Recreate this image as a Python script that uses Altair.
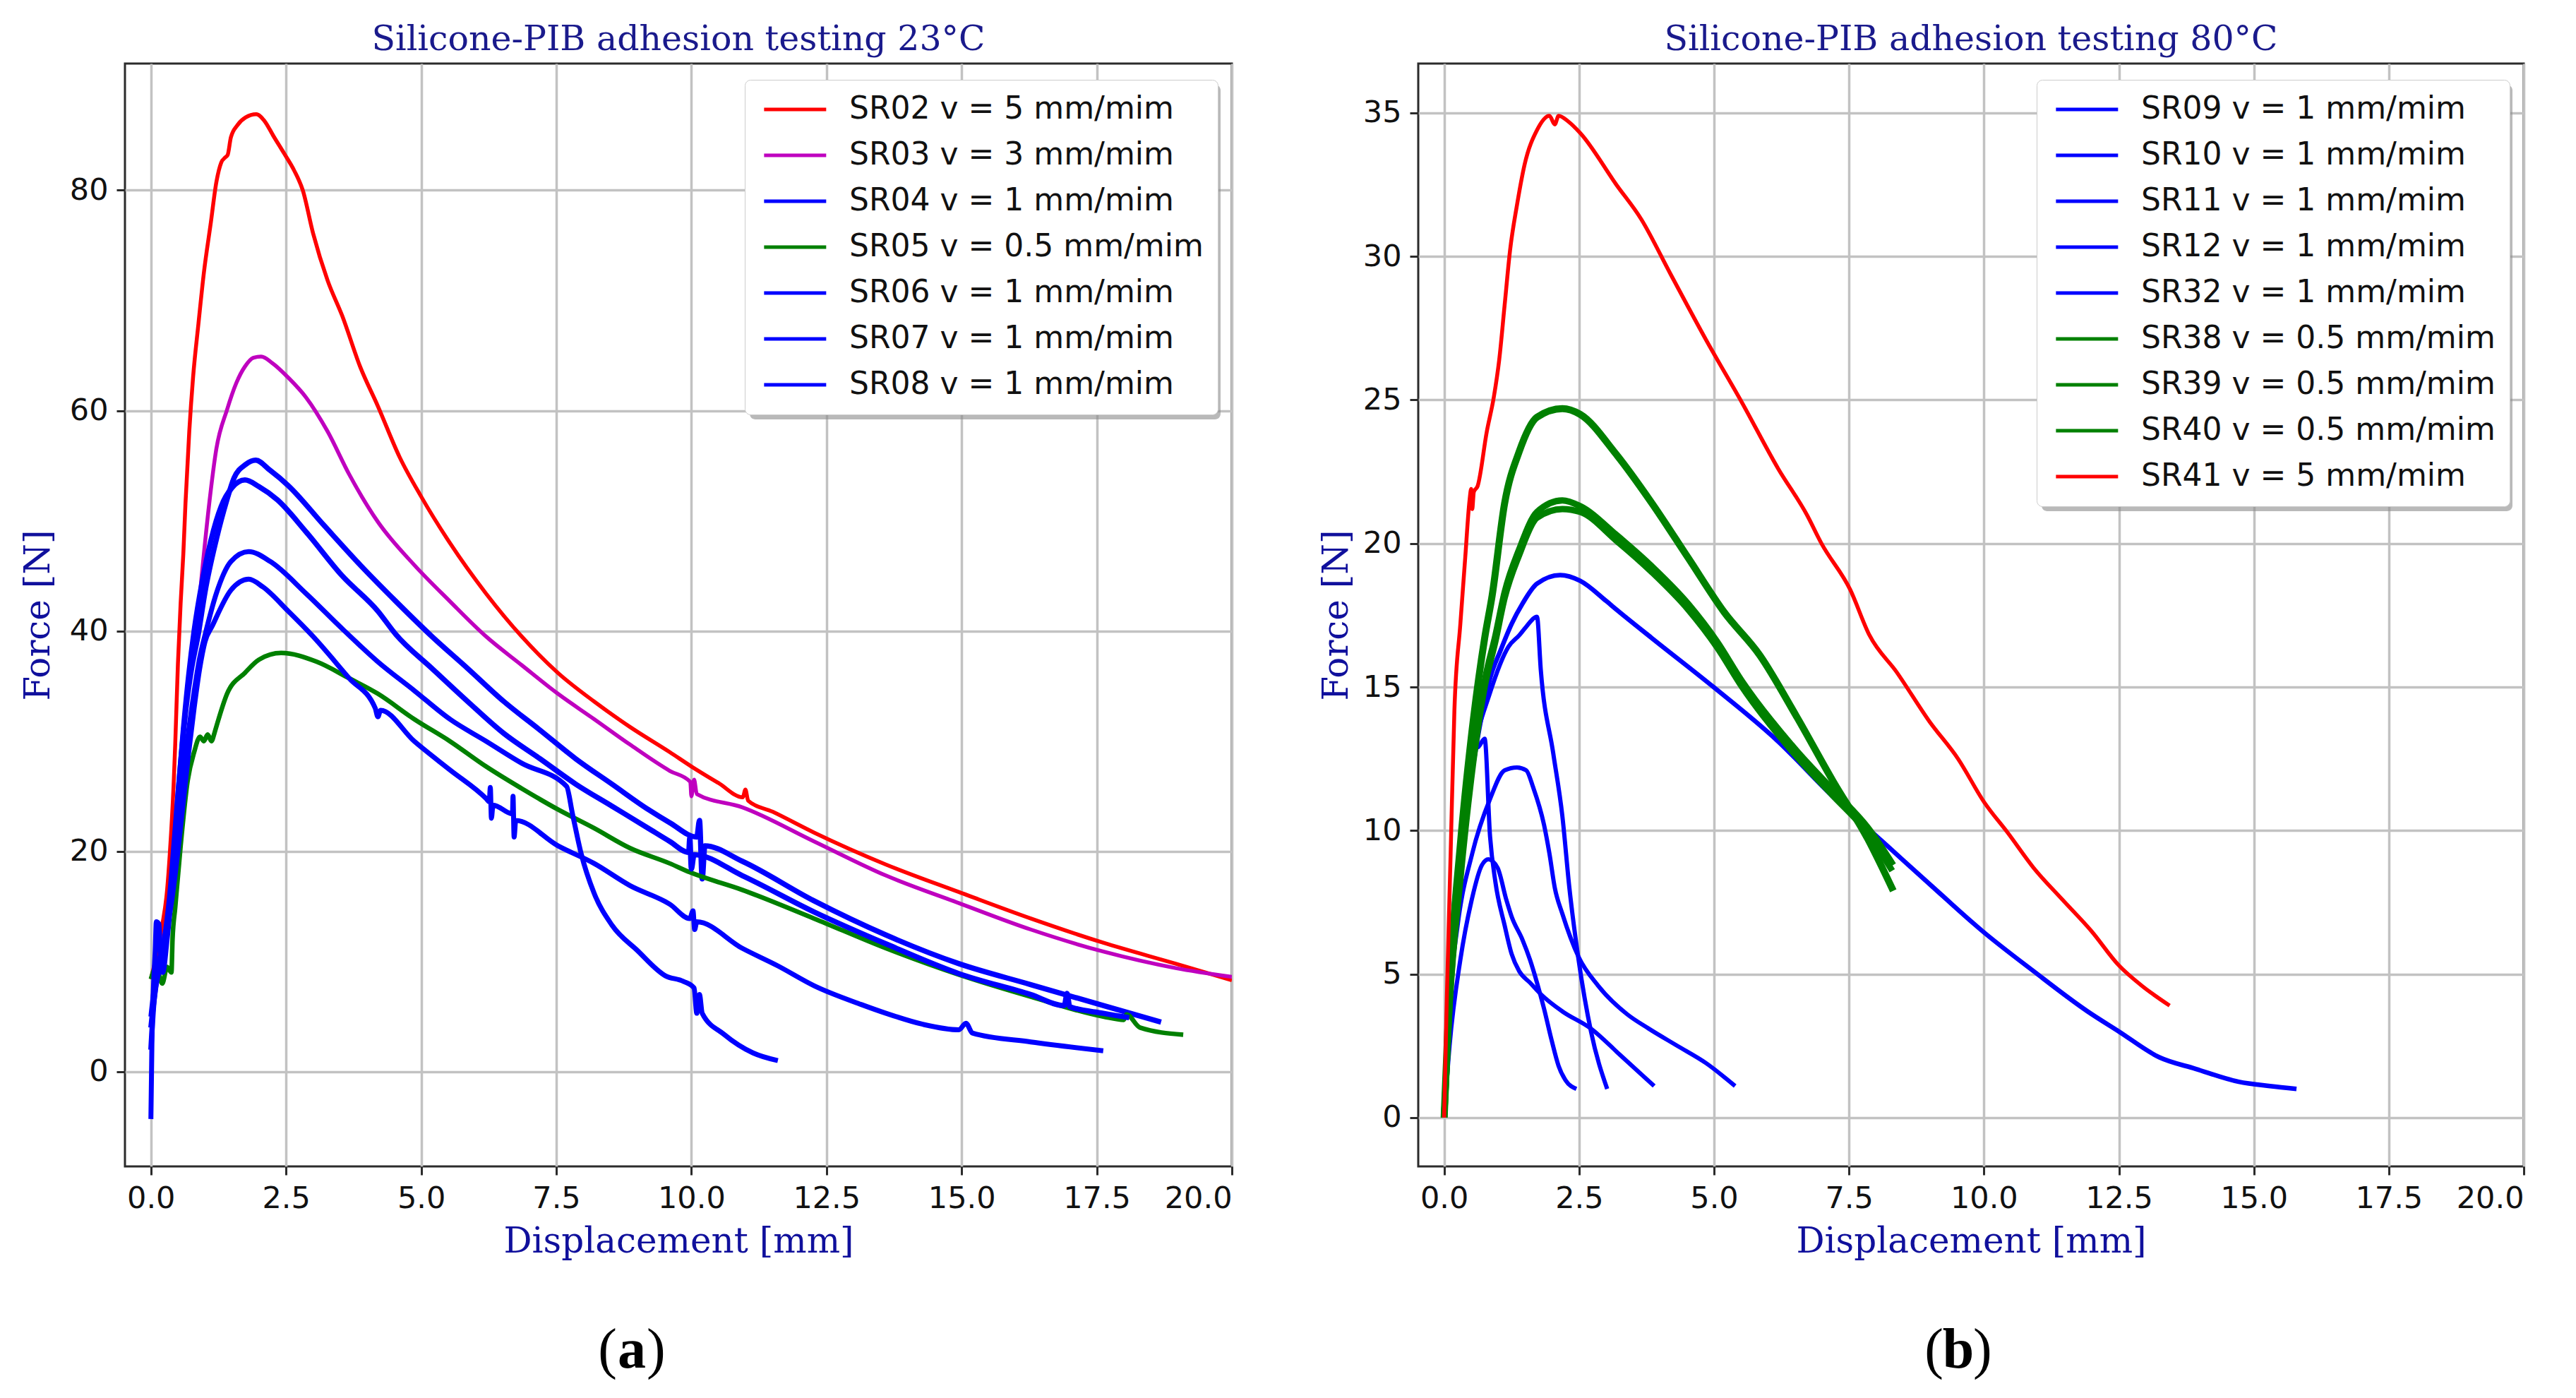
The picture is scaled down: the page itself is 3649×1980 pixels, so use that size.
import altair as alt
import pandas as pd

# ---------------- panel (a): 23 C ----------------
SR02_x = [0.0, 0.1, 0.21, 0.3, 0.35, 0.42, 0.45, 0.5, 0.55, 0.6, 0.64, 0.71, 0.78, 0.88, 0.98, 1.11, 1.21, 1.3, 1.38, 1.42, 1.48, 1.6, 1.75, 1.95, 2.1, 2.27, 2.47, 2.65, 2.81, 3.0, 3.27, 3.54, 3.87, 4.2, 4.6, 5.0, 5.53, 6.2, 6.86, 7.53, 8.2, 8.86, 9.6, 10.0, 10.5, 10.95, 11.0, 11.05, 11.5, 12.27, 13.6, 14.95, 16.28, 17.62, 18.96, 20.0]
SR02_y = [8.4, 10.5, 13.3, 16.5, 19.8, 26.0, 29.7, 37.0, 42.5, 47.0, 51.6, 58.1, 63.0, 67.9, 72.5, 77.1, 80.7, 82.5, 83.0, 83.2, 84.8, 85.9, 86.6, 86.9, 86.3, 84.9, 83.3, 81.8, 80.0, 76.1, 71.8, 68.6, 64.0, 60.4, 55.8, 52.2, 48.0, 43.4, 39.5, 36.2, 33.6, 31.3, 29.0, 27.7, 26.2, 24.9, 25.6, 24.6, 23.6, 21.7, 18.8, 16.3, 13.9, 11.7, 9.8, 8.3]

SR03_x = [0.1, 0.3, 0.45, 0.55, 0.65, 0.75, 0.84, 0.94, 1.08, 1.21, 1.41, 1.58, 1.74, 1.9, 2.04, 2.25, 2.54, 2.87, 3.27, 3.67, 4.2, 4.87, 5.53, 6.2, 6.86, 7.53, 8.2, 8.86, 9.6, 9.98, 10.0, 10.05, 10.1, 10.94, 12.27, 13.6, 14.95, 16.28, 17.62, 18.96, 20.0]
SR03_y = [9.0, 14.0, 20.0, 27.0, 33.0, 37.0, 39.8, 45.0, 51.6, 56.5, 60.1, 62.5, 64.0, 64.8, 64.9, 64.3, 63.0, 61.2, 58.1, 54.2, 49.9, 46.0, 42.7, 39.5, 36.9, 34.3, 32.0, 29.7, 27.3, 26.3, 25.0, 26.5, 25.2, 24.0, 20.9, 17.8, 15.3, 12.9, 10.9, 9.4, 8.6]

SR04_x = [0.0, 0.05, 0.15, 0.25, 0.35, 0.45, 0.55, 0.65, 0.75, 0.88, 1.0, 1.21, 1.4, 1.54, 1.75, 1.94, 2.2, 2.54, 3.2, 3.87, 4.53, 5.2, 5.86, 6.53, 7.2, 7.86, 8.53, 9.2, 9.6, 10.1, 10.15, 10.2, 10.25, 10.94, 12.27, 13.6, 14.95, 16.28, 17.62, 18.69]
SR04_y = [2.0, 6.0, 9.5, 12.0, 16.0, 22.0, 28.0, 33.0, 36.5, 39.8, 43.5, 48.3, 51.8, 53.9, 55.1, 55.5, 54.6, 53.2, 49.6, 46.0, 42.7, 39.5, 36.6, 33.6, 31.0, 28.4, 26.1, 23.8, 22.6, 21.3, 22.8, 17.5, 20.5, 19.1, 15.5, 12.4, 9.8, 7.9, 6.0, 4.5]

SR05_x = [0.0, 0.1, 0.21, 0.3, 0.38, 0.4, 0.45, 0.55, 0.68, 0.8, 0.91, 0.98, 1.05, 1.12, 1.18, 1.21, 1.41, 1.74, 2.0, 2.41, 3.07, 3.67, 4.2, 4.87, 5.53, 6.2, 6.86, 7.53, 8.2, 8.86, 9.6, 9.97, 10.94, 12.27, 13.6, 14.95, 16.28, 17.62, 18.0, 18.05, 18.3, 19.1]
SR05_y = [8.4, 9.5, 8.0, 9.5, 9.0, 12.0, 14.9, 20.5, 26.4, 29.0, 30.4, 30.0, 30.6, 30.0, 30.8, 31.3, 34.3, 36.2, 37.4, 38.0, 37.2, 35.7, 34.3, 32.0, 30.0, 27.7, 25.7, 23.8, 22.1, 20.3, 18.9, 18.1, 16.5, 13.9, 11.2, 8.8, 6.8, 5.0, 4.7, 5.2, 4.0, 3.35]

SR06_x = [0.0, 0.1, 0.2, 0.3, 0.4, 0.5, 0.6, 0.7, 0.8, 0.95, 1.1, 1.3, 1.5, 1.74, 2.0, 2.34, 2.87, 3.54, 4.2, 4.53, 5.2, 5.86, 6.53, 7.2, 7.86, 8.53, 9.2, 9.6, 9.95, 9.97, 10.0, 10.05, 10.94, 12.27, 13.6, 14.95, 16.28, 16.9, 16.95, 17.0, 17.62, 18.1]
SR06_y = [4.0, 8.0, 10.0, 13.0, 18.0, 25.0, 31.0, 36.0, 40.0, 44.5, 48.0, 51.3, 53.0, 53.7, 53.1, 51.9, 49.0, 45.0, 41.8, 39.7, 36.6, 33.6, 30.7, 28.4, 26.1, 24.1, 22.1, 20.9, 19.9, 21.2, 18.4, 19.7, 17.8, 14.5, 11.6, 8.9, 7.0, 6.0, 7.1, 5.9, 5.3, 4.9]

SR07_x = [0.0, 0.02, 0.05, 0.08, 0.1, 0.15, 0.18, 0.22, 0.3, 0.4, 0.5, 0.6, 0.7, 0.8, 0.9, 1.01, 1.21, 1.48, 1.81, 2.21, 2.87, 3.54, 4.2, 4.87, 5.53, 6.2, 6.86, 7.69, 7.8, 7.96, 8.2, 8.53, 9.0, 9.52, 9.85, 10.05, 10.1, 10.15, 10.2, 10.6, 11.14, 11.6]
SR07_y = [-4.3, 3.0, 8.0, 11.0, 13.6, 13.4, 10.0, 9.0, 12.0, 17.0, 22.0, 27.0, 31.0, 34.5, 37.5, 39.8, 43.4, 46.3, 47.2, 46.3, 43.4, 40.2, 37.2, 34.6, 32.0, 30.0, 28.0, 25.9, 23.4, 19.8, 16.2, 13.3, 11.0, 8.7, 8.2, 7.6, 5.3, 7.0, 5.3, 3.4, 1.7, 1.0]

SR08_x = [0.0, 0.1, 0.2, 0.3, 0.4, 0.5, 0.6, 0.7, 0.8, 0.9, 1.0, 1.14, 1.48, 1.81, 2.07, 2.54, 3.0, 3.67, 4.15, 4.2, 4.25, 4.87, 5.53, 6.2, 6.26, 6.28, 6.3, 6.33, 6.69, 6.7, 6.72, 6.75, 7.53, 8.2, 8.86, 9.6, 9.97, 10.03, 10.06, 10.1, 10.94, 11.6, 12.27, 13.14, 13.6, 14.28, 14.95, 15.08, 15.2, 16.28, 17.62]
SR08_y = [5.0, 9.0, 11.0, 13.0, 16.0, 20.0, 24.5, 29.0, 33.0, 36.5, 39.0, 40.5, 43.7, 44.7, 44.0, 41.8, 39.5, 35.7, 33.0, 32.2, 32.8, 30.0, 27.4, 24.8, 24.5, 25.8, 23.0, 24.2, 23.4, 25.0, 21.3, 22.8, 20.5, 18.9, 16.9, 15.2, 13.9, 14.6, 12.9, 13.6, 11.2, 9.6, 7.8, 6.1, 5.3, 4.3, 3.8, 4.4, 3.5, 2.7, 1.9]

# ---------------- panel (b): 80 C ----------------
SR09_x = [0.0, 0.05, 0.2, 0.4, 0.6, 0.85, 1.05, 1.25, 1.45, 1.72, 2.15, 2.52, 3.0, 3.19, 3.85, 4.99, 6.19, 7.19, 8.19, 9.19, 9.97, 10.92, 11.92, 12.5, 13.25, 13.92, 14.72, 15.3, 15.79]
SR09_y = [0.0, 3.0, 7.0, 10.5, 13.0, 15.3, 16.3, 17.2, 17.9, 18.6, 18.9, 18.7, 18.0, 17.7, 16.7, 15.0, 13.1, 11.2, 9.5, 7.8, 6.5, 5.1, 3.7, 3.0, 2.1, 1.7, 1.25, 1.1, 1.0]

SR10_x = [0.0, 0.1, 0.3, 0.52, 0.85, 1.19, 1.39, 1.52, 1.72, 1.79, 2.02, 2.19, 2.32, 2.49, 2.72, 3.02]
SR10_y = [0.0, 5.0, 9.5, 12.5, 14.8, 16.4, 16.8, 17.1, 17.45, 15.6, 12.7, 10.5, 8.0, 5.5, 3.0, 1.0]

SR11_x = [0.0, 0.1, 0.25, 0.52, 0.85, 1.12, 1.35, 1.52, 1.65, 1.85, 1.95, 2.05, 2.19, 2.49, 2.85, 3.39, 3.79, 4.32, 4.85, 5.39]
SR11_y = [0.0, 4.0, 6.7, 9.2, 11.1, 12.1, 12.2, 12.1, 11.5, 10.2, 9.2, 8.0, 7.1, 5.6, 4.6, 3.6, 3.1, 2.5, 1.9, 1.1]

SR12_x = [0.0, 0.1, 0.3, 0.5, 0.59, 0.62, 0.75, 0.85, 0.95, 1.12, 1.25, 1.39, 1.59, 1.79, 2.19, 2.72, 3.25, 3.89]
SR12_y = [0.0, 5.0, 9.0, 12.0, 13.2, 12.9, 13.2, 9.8, 8.2, 6.7, 5.7, 5.1, 4.7, 4.3, 3.7, 3.1, 2.2, 1.1]

SR32_x = [0.0, 0.1, 0.3, 0.5, 0.7, 0.82, 0.99, 1.15, 1.25, 1.45, 1.59, 1.72, 1.85, 1.99, 2.12, 2.25, 2.45]
SR32_y = [0.0, 2.5, 5.5, 7.5, 8.8, 9.0, 8.7, 7.6, 7.0, 6.2, 5.5, 4.7, 3.8, 2.7, 1.8, 1.3, 1.0]

SR38_x = [0.0, 0.1, 0.3, 0.5, 0.75, 0.89, 1.12, 1.39, 1.72, 2.19, 2.52, 3.19, 3.85, 4.52, 5.19, 5.85, 6.52, 7.21, 7.85, 8.32]
SR38_y = [0.0, 4.5, 9.5, 13.2, 16.7, 18.2, 21.4, 23.2, 24.4, 24.7, 24.5, 23.1, 21.4, 19.5, 17.6, 16.1, 14.0, 11.7, 9.7, 7.9]

SR39_x = [0.0, 0.1, 0.3, 0.5, 0.75, 0.95, 1.12, 1.39, 1.72, 2.19, 2.52, 3.19, 3.85, 4.52, 5.05, 5.52, 6.52, 7.21, 7.85, 8.32]
SR39_y = [0.0, 4.0, 8.5, 12.0, 15.2, 16.8, 18.3, 19.8, 21.1, 21.5, 21.3, 20.3, 19.2, 17.9, 16.6, 15.2, 12.8, 11.4, 10.1, 8.8]

SR40_x = [0.0, 0.1, 0.3, 0.5, 0.75, 0.95, 1.12, 1.39, 1.72, 2.19, 2.52, 3.19, 3.85, 4.52, 5.05, 5.52, 6.52, 7.21, 7.85, 8.3]
SR40_y = [0.0, 3.9, 8.3, 11.8, 15.0, 16.6, 18.1, 19.6, 20.9, 21.2, 21.1, 20.1, 19.0, 17.7, 16.4, 15.0, 12.6, 11.2, 9.9, 8.6]

SR41_x = [0.0, 0.05, 0.12, 0.19, 0.3, 0.39, 0.47, 0.5, 0.52, 0.55, 0.62, 0.79, 0.92, 1.02, 1.12, 1.22, 1.35, 1.49, 1.72, 1.95, 2.05, 2.12, 2.3, 2.52, 3.19, 3.65, 4.19, 4.85, 5.52, 6.19, 6.72, 6.99, 7.52, 7.88, 8.39, 8.99, 9.52, 10.0, 10.45, 10.92, 11.45, 11.99, 12.5, 12.92, 13.44]
SR41_y = [0.0, 4.2, 9.2, 14.2, 17.2, 19.5, 21.5, 21.9, 21.2, 21.8, 22.0, 23.9, 25.1, 26.4, 28.3, 30.2, 31.8, 33.2, 34.4, 34.9, 34.6, 34.9, 34.7, 34.3, 32.5, 31.3, 29.4, 27.1, 24.9, 22.6, 21.0, 20.0, 18.4, 16.8, 15.5, 13.8, 12.5, 11.0, 9.9, 8.7, 7.6, 6.5, 5.3, 4.6, 3.9]

labels_a = ["SR02 v = 5 mm/mim", "SR03 v = 3 mm/mim", "SR04 v = 1 mm/mim", "SR05 v = 0.5 mm/mim",
            "SR06 v = 1 mm/mim", "SR07 v = 1 mm/mim", "SR08 v = 1 mm/mim"]
colors_a = ["#ff0000", "#bf00bf", "#0000ff", "#008000", "#0000ff", "#0000ff", "#0000ff"]
widths_a = [5.5, 5.5, 7.5, 6.5, 7.5, 7, 7]

labels_b = ["SR09 v = 1 mm/mim", "SR10 v = 1 mm/mim", "SR11 v = 1 mm/mim", "SR12 v = 1 mm/mim",
            "SR32 v = 1 mm/mim", "SR38 v = 0.5 mm/mim", "SR39 v = 0.5 mm/mim", "SR40 v = 0.5 mm/mim",
            "SR41 v = 5 mm/mim"]
colors_b = ["#0000ff", "#0000ff", "#0000ff", "#0000ff", "#0000ff", "#008000", "#008000", "#008000", "#ff0000"]
widths_b = [6.5, 6, 6, 6, 6, 10, 9, 9, 5.5]

x_ticks = [0.0, 2.5, 5.0, 7.5, 10.0, 12.5, 15.0, 17.5, 20.0]
y_ticks_a = [0, 20, 40, 60, 80]
y_ticks_b = [0, 5, 10, 15, 20, 25, 30, 35]

titles = ["Silicone-PIB adhesion testing 23°C", "Silicone-PIB adhesion testing 80°C"]
captions = ["a", "b"]


def build(name, xs, ys):
    return pd.DataFrame({"series": [name] * len(xs), "x": xs, "y": ys, "i": list(range(len(xs)))})


series_a = [build(labels_a[0], SR02_x, SR02_y), build(labels_a[1], SR03_x, SR03_y),
            build(labels_a[2], SR04_x, SR04_y), build(labels_a[3], SR05_x, SR05_y),
            build(labels_a[4], SR06_x, SR06_y), build(labels_a[5], SR07_x, SR07_y),
            build(labels_a[6], SR08_x, SR08_y)]
series_b = [build(labels_b[0], SR09_x, SR09_y), build(labels_b[1], SR10_x, SR10_y),
            build(labels_b[2], SR11_x, SR11_y), build(labels_b[3], SR12_x, SR12_y),
            build(labels_b[4], SR32_x, SR32_y), build(labels_b[5], SR38_x, SR38_y),
            build(labels_b[6], SR39_x, SR39_y), build(labels_b[7], SR40_x, SR40_y),
            build(labels_b[8], SR41_x, SR41_y)]

H = 1562
TITLE_C = "#1a1a8c"
AXT_C = "#10109c"
one = pd.DataFrame({"k": [0]})


def panel(dfs, labels, colors, widths, title, ydom, yticks, W, lx, ly, lw, lh, ytx, cap, capx):
    xenc = alt.X("x:Q", scale=alt.Scale(domain=[-0.48, 20.0], nice=False, zero=False),
                 axis=alt.Axis(values=x_ticks, format=".1f", title="Displacement [mm]"))
    yenc = alt.Y("y:Q", scale=alt.Scale(domain=ydom, nice=False, zero=False),
                 axis=alt.Axis(values=yticks, format="d", title="Force [N]", titleX=ytx, titleY=H / 2,
                               titleAngle=270, titleBaseline="middle", titleAlign="center"))
    cenc = alt.Color("series:N", scale=alt.Scale(domain=labels, range=colors),
                     legend=alt.Legend(title=None, orient="none", legendX=lx, legendY=ly,
                                       symbolType="M-1,0L5,0", symbolSize=860, symbolStrokeWidth=5,
                                       labelFont="DejaVu Sans", labelFontSize=44, labelColor="#111111",
                                       labelLimit=2000, labelOffset=84, padding=20, rowPadding=21,
                                       fillColor="white", strokeColor="#cccccc", cornerRadius=8))
    line_layers = [
        alt.Chart(d).mark_line(clip=True, strokeJoin="round", interpolate="monotone", strokeWidth=w).encode(
            x=xenc, y=yenc, color=cenc, order=alt.Order("i:Q"))
        for d, w in zip(dfs, widths)
    ]
    shadow = alt.Chart(one).mark_rect(color="#8a8a8a", opacity=0.6, cornerRadius=8).encode(
        x=alt.value(lx + 7), x2=alt.value(lx + 7 + lw), y=alt.value(ly + 7), y2=alt.value(ly + 7 + lh))
    cy = H + 261
    p1 = alt.Chart(one).mark_text(text="(", font="Liberation Serif", fontSize=80, align="right",
                                  baseline="middle", color="black").encode(x=alt.value(capx - 21), y=alt.value(cy))
    p2 = alt.Chart(one).mark_text(text=cap, font="Liberation Serif", fontSize=80, fontWeight="bold",
                                  align="center", baseline="middle", color="black").encode(x=alt.value(capx), y=alt.value(cy))
    p3 = alt.Chart(one).mark_text(text=")", font="Liberation Serif", fontSize=80, align="left",
                                  baseline="middle", color="black").encode(x=alt.value(capx + 21), y=alt.value(cy))
    return alt.layer(shadow, *line_layers, p1, p2, p3).properties(
        width=W, height=H,
        title=alt.TitleParams(text=title, font="DejaVu Serif", fontSize=49, fontWeight="normal",
                              color=TITLE_C, anchor="middle", baseline="alphabetic", offset=-30))


left = panel(series_a, labels_a, colors_a, widths_a, titles[0], [-8.6, 91.5], y_ticks_a, 1568,
             878, 23, 667, 474, -123, captions[0], 718)
right = panel(series_b, labels_b, colors_b, widths_b, titles[1], [-1.7, 36.72], y_ticks_b, 1566,
              876, 23, 667, 604, -116, captions[1], 765)

chart = alt.hconcat(left, right, spacing=264, bounds="flush").resolve_scale(
    color="independent"
).properties(
    padding={"left": 19, "top": 22, "right": 10, "bottom": 10}, background="white"
).configure_view(
    stroke="#2b2b2b", strokeWidth=3
).configure_axis(
    labelFont="DejaVu Sans", labelFontSize=43, labelColor="#111111", labelPadding=12,
    tickSize=12, tickWidth=3, tickColor="#2b2b2b", domain=False,
    grid=True, gridColor="#c2c2c2", gridWidth=3.5,
    titleFont="DejaVu Serif", titleFontSize=50, titleFontWeight="normal", titleColor=AXT_C, titlePadding=14
)

chart.save("out.html", embed_options={"renderer": "svg", "actions": False})
